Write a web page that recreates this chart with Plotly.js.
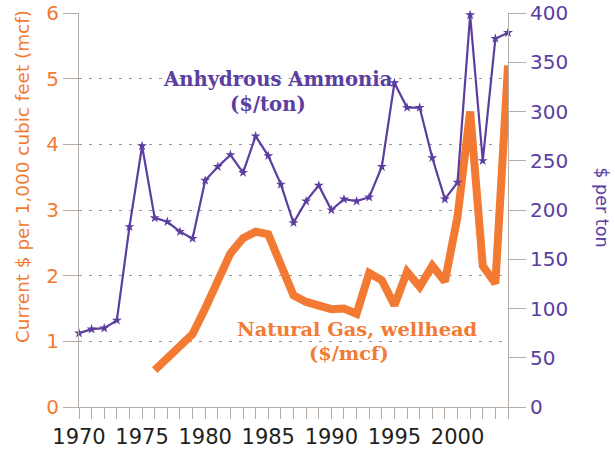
<!DOCTYPE html>
<html>
<head>
<meta charset="utf-8">
<script src="https://cdn.plot.ly/plotly-3.0.1.min.js"></script>
<style>html,body{margin:0;padding:0;background:#fff;}#chart{width:615px;height:452px;}</style>
</head>
<body>
<div id="chart"></div>
<script>
// Anhydrous ammonia, $/ton (right axis)
const ammoniaYears = [1970,1971,1972,1973,1974,1975,1976,1977,1978,1979,1980,1981,1982,1983,1984,1985,1986,1987,1988,1989,1990,1991,1992,1993,1994,1995,1996,1997,1998,1999,2000,2001,2002,2003,2004];
const ammoniaPrice = [75,79,80,88,183,265,192,188,178,171,230,244,256,238,275,255,226,187,209,225,200,211,209,213,244,329,304,304,253,211,228,398,250,374,380];

// Natural gas wellhead, $/mcf (left axis)
const gasYears = [1976,1977,1978,1979,1980,1981,1982,1983,1984,1985,1986,1987,1988,1989,1990,1991,1992,1993,1994,1995,1996,1997,1998,1999,2000,2001,2002,2003,2004];
const gasPrice = [0.56,0.73,0.92,1.11,1.50,1.93,2.34,2.57,2.67,2.63,2.13,1.70,1.60,1.55,1.49,1.50,1.42,2.04,1.93,1.55,2.06,1.83,2.15,1.91,2.90,4.50,2.15,1.88,5.20];

const ORANGE = '#F37A32';
const PURPLE = '#5B3E9F';
const GRAY = '#B5ADA6';
const SANS = 'DejaVu Sans';
const SERIF = 'DejaVu Serif';

const traces = [
  {
    x: ammoniaYears, y: ammoniaPrice, yaxis: 'y2', type: 'scatter', mode: 'lines+markers',
    line: {color: PURPLE, width: 2.2},
    marker: {symbol: 'star', size: 7.5, color: PURPLE, line: {width: 0}},
    cliponaxis: false, hoverinfo: 'skip', name: 'Anhydrous Ammonia'
  },
  {
    x: gasYears, y: gasPrice, type: 'scatter', mode: 'lines',
    line: {color: ORANGE, width: 8},
    cliponaxis: false, hoverinfo: 'skip', name: 'Natural Gas, wellhead'
  }
];

const layout = {
  width: 615, height: 452,
  margin: {l: 79, r: 107, t: 13, b: 45, pad: 0},
  paper_bgcolor: '#ffffff', plot_bgcolor: '#ffffff',
  showlegend: false,
  xaxis: {
    range: [1970, 2004], dtick: 5, tick0: 1970,
    ticks: 'outside', ticklen: 11, tickwidth: 1, tickcolor: GRAY,
    minor: {dtick: 1, tick0: 1970, ticks: 'outside', ticklen: 11, tickcolor: GRAY, tickwidth: 1},
    showline: true, linecolor: GRAY, linewidth: 1,
    showgrid: false, zeroline: false,
    tickfont: {family: SANS, size: 21, color: '#231F20'}
  },
  yaxis: {
    range: [0, 6], dtick: 1, tick0: 0,
    ticks: 'outside', ticklen: 15, tickwidth: 1, tickcolor: GRAY,
    showline: true, linecolor: GRAY, linewidth: 1,
    showgrid: true, gridcolor: '#9C948D', gridwidth: 1, griddash: '3px,7px',
    zeroline: false,
    tickfont: {family: SANS, size: 20, color: ORANGE}
  },
  yaxis2: {
    overlaying: 'y', side: 'right',
    range: [0, 400], dtick: 50, tick0: 0,
    ticks: 'outside', ticklen: 17, tickwidth: 1, tickcolor: GRAY,
    showline: true, linecolor: GRAY, linewidth: 1,
    showgrid: false, zeroline: false,
    tickfont: {family: SANS, size: 20, color: PURPLE}
  },
  annotations: [
    {text: 'Anhydrous Ammonia', x: 1985.77, y: 4.99, xref: 'x', yref: 'y', showarrow: false,
     xanchor: 'center', yanchor: 'middle', font: {family: SERIF, size: 19.6, color: PURPLE, weight: 'bold'}},
    {text: '($/ton)', x: 1985.0, y: 4.61, xref: 'x', yref: 'y', showarrow: false,
     xanchor: 'center', yanchor: 'middle', font: {family: SERIF, size: 19.6, color: PURPLE, weight: 'bold'}},
    {text: 'Natural Gas, wellhead', x: 1992.07, y: 1.18, xref: 'x', yref: 'y', showarrow: false,
     xanchor: 'center', yanchor: 'middle', font: {family: SERIF, size: 19.4, color: ORANGE, weight: 'bold'}},
    {text: '($/mcf)', x: 1991.39, y: 0.81, xref: 'x', yref: 'y', showarrow: false,
     xanchor: 'center', yanchor: 'middle', font: {family: SERIF, size: 19.4, color: ORANGE, weight: 'bold'}},
    {text: 'Current $ per 1,000 cubic feet (mcf)', x: -0.133, y: 0.586, xref: 'paper', yref: 'paper',
     showarrow: false, textangle: -90, xanchor: 'center', yanchor: 'middle',
     font: {family: SANS, size: 18.4, color: ORANGE}},
    {text: '$ per ton', x: 1.2205, y: 0.508, xref: 'paper', yref: 'paper',
     showarrow: false, textangle: 90, xanchor: 'center', yanchor: 'middle',
     font: {family: SANS, size: 17.6, color: PURPLE}}
  ]
};

Plotly.newPlot('chart', traces, layout, {staticPlot: true, displayModeBar: false});
</script>
</body>
</html>
